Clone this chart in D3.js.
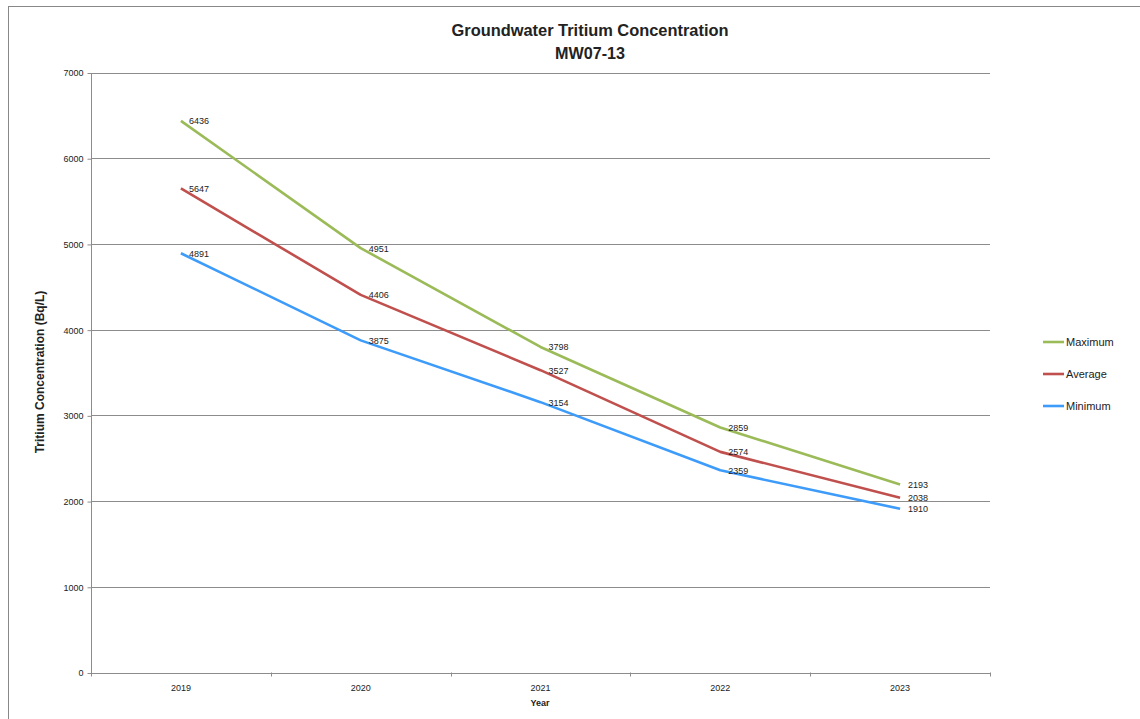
<!DOCTYPE html>
<html><head><meta charset="utf-8">
<script src="https://cdn.jsdelivr.net/npm/d3@7"></script>
<style>body{margin:0;background:#fff}svg{display:block}</style>
</head><body>
<script>
const years = ["2019","2020","2021","2022","2023"];
const maximum = [6436,4951,3798,2859,2193];
const average = [5647,4406,3527,2574,2038];
const minimum = [4891,3875,3154,2359,1910];
const yTicks = [0,1000,2000,3000,4000,5000,6000,7000];
const seriesNames = ["Maximum","Average","Minimum"];
const seriesColors = ["#9BBB59","#C0504D","#3D9BFA"];
const series = [maximum, average, minimum];

const W=1140,H=719;
const svg=d3.select("body").append("svg").attr("width",W).attr("height",H);
const font="'Liberation Sans', Arial, sans-serif";
svg.append("rect").attr("x",8.5).attr("y",6.5).attr("width",1160).attr("height",720)
  .attr("fill","none").attr("stroke","#888").attr("stroke-width",1);

const x=d3.scaleBand().domain(years).range([91,990]);
const y=d3.scaleLinear().domain([0,7000]).range([672.5,72.5]);

const g=svg.append("g");
// gridlines
g.selectAll("line.grid").data(yTicks.slice(1)).join("line")
 .attr("x1",91).attr("x2",990).attr("y1",d=>Math.round(y(d))+0.5).attr("y2",d=>Math.round(y(d))+0.5)
 .attr("stroke","#8c8c8c").attr("stroke-width",1);

// y axis
const ya=g.append("g").attr("transform","translate(91.5,0.5)")
 .call(d3.axisLeft(y).tickValues(yTicks).tickSize(4).tickPadding(4).tickFormat(d3.format("d")));
ya.selectAll("path,line").attr("stroke","#8c8c8c");
ya.selectAll("text").attr("font-family",font).attr("font-size",9).attr("fill","#222");
ya.select(".domain").attr("d","M0,"+(y(7000))+"V"+y(0));

// x axis
const xa=g.append("g").attr("transform","translate(0,"+(Math.round(y(0))+0.5)+")")
 .call(d3.axisBottom(x).tickSize(0).tickPadding(11));
xa.select(".domain").attr("stroke","#8c8c8c").attr("d","M91,0H990");
xa.selectAll("text").attr("font-family",font).attr("font-size",9).attr("fill","#222");
const bounds=years.map(d=>x(d)).concat([x.range()[1]]);
g.selectAll("line.xt").data(bounds).join("line")
 .attr("x1",d=>Math.round(d)+0.5).attr("x2",d=>Math.round(d)+0.5)
 .attr("y1",y(0)).attr("y2",y(0)+4).attr("stroke","#8c8c8c");

// lines
const line=d3.line().x((d,i)=>x(years[i])+x.bandwidth()/2).y(d=>y(d));
series.forEach((s,k)=>{
  g.append("path").datum(s).attr("d",line).attr("fill","none")
   .attr("stroke",seriesColors[k]).attr("stroke-width",2.6).attr("stroke-linejoin","round");
});
series.forEach((s,k)=>{
  g.selectAll("text.lab"+k).data(s).join("text")
   .attr("x",(d,i)=>x(years[i])+x.bandwidth()/2+8).attr("y",d=>y(d)+3.5)
   .attr("font-family",font).attr("font-size",9).attr("fill","#222").text(d=>d);
});

// titles
svg.append("text").attr("x",590).attr("y",36).attr("text-anchor","middle")
 .attr("font-family",font).attr("font-weight","bold").attr("font-size",16).attr("fill","#222")
 .attr("textLength",277).attr("lengthAdjust","spacingAndGlyphs").text("Groundwater Tritium Concentration");
svg.append("text").attr("x",590).attr("y",59).attr("text-anchor","middle")
 .attr("font-family",font).attr("font-weight","bold").attr("font-size",16).attr("fill","#222")
 .attr("textLength",70).attr("lengthAdjust","spacingAndGlyphs").text("MW07-13");
svg.append("text").attr("transform","translate(44,372) rotate(-90)").attr("text-anchor","middle")
 .attr("font-family",font).attr("font-weight","bold").attr("font-size",12).attr("fill","#222").text("Tritium Concentration (Bq/L)");
svg.append("text").attr("x",540).attr("y",706).attr("text-anchor","middle")
 .attr("font-family",font).attr("font-weight","bold").attr("font-size",9).attr("fill","#222").text("Year");

// legend
const leg=svg.append("g");
seriesNames.forEach((n,k)=>{
  const yy=342+k*32;
  leg.append("line").attr("x1",1043).attr("x2",1064).attr("y1",yy).attr("y2",yy)
   .attr("stroke",seriesColors[k]).attr("stroke-width",2.6);
  leg.append("text").attr("x",1066).attr("y",yy+4).attr("font-family",font).attr("font-size",11)
   .attr("fill","#222").text(n);
});
</script>
</body></html>
